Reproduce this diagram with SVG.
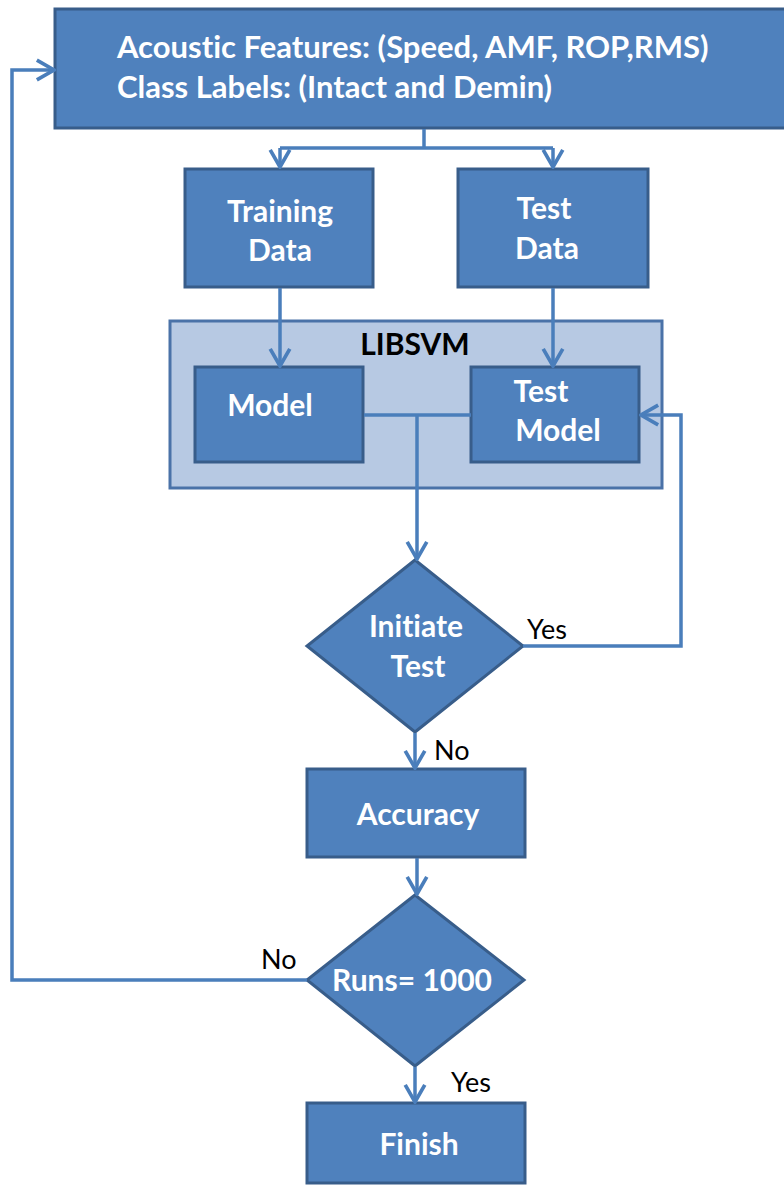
<svg xmlns="http://www.w3.org/2000/svg" width="784" height="1190" viewBox="0 0 784 1190">
  <defs>
    <style>
      .box { fill: #4f81bd; stroke: #385d8a; stroke-width: 3; }
      .group { fill: #b7c9e3; stroke: #4a72a8; stroke-width: 3; }
      text { font-variant-ligatures: none; }
      .lbl { font-family: Lato, "Open Sans", "Liberation Sans", sans-serif; font-weight: bold; fill: #ffffff; font-size: 30px; }
      .big { font-size: 31px; }
      .dark { fill: #000000; }
      .ann { font-family: Lato, "Open Sans", "Liberation Sans", sans-serif; fill: #000000; font-size: 27px; }
      .edge { fill: none; stroke: #4a7ebb; stroke-width: 3.5; }
      .mid { text-anchor: middle; }
    </style>
    <marker id="arr" viewBox="0 0 20 20" refX="18" refY="10" markerWidth="7" markerHeight="7" markerUnits="strokeWidth" orient="auto">
      <polyline points="4,2 18,10 4,18" fill="none" stroke="#4a7ebb" stroke-width="3"/>
    </marker>
  </defs>

  <rect width="784" height="1190" fill="#ffffff"/>

  <!-- input features -->
  <g id="features">
    <rect class="box" x="55" y="9" width="740" height="119"/>
    <text class="lbl big" x="117" y="58">Acoustic Features: (Speed, AMF, ROP,RMS)</text>
    <text class="lbl big" x="117" y="98">Class Labels: (Intact and Demin)</text>
  </g>

  <g id="training-data">
    <rect class="box" x="185" y="169" width="188" height="118"/>
    <text class="lbl mid" x="280" y="222">Training</text>
    <text class="lbl mid" x="280" y="261">Data</text>
  </g>

  <g id="test-data">
    <rect class="box" x="458" y="169" width="190" height="118"/>
    <text class="lbl mid" x="544" y="219">Test</text>
    <text class="lbl mid" x="547" y="259">Data</text>
  </g>

  <g id="libsvm">
    <rect class="group" x="170" y="321" width="492" height="167"/>
    <text class="lbl mid dark" x="415" y="355">LIBSVM</text>
  </g>

  <g id="model">
    <rect class="box" x="195" y="367" width="168" height="95"/>
    <text class="lbl mid" x="270" y="416">Model</text>
  </g>

  <g id="test-model">
    <rect class="box" x="471" y="367" width="168" height="95"/>
    <text class="lbl mid" x="541" y="402">Test</text>
    <text class="lbl mid" x="558" y="441">Model</text>
  </g>

  <g id="initiate-test">
    <polygon class="box" points="415,560 523,646 415,732 307,646"/>
    <text class="lbl mid" x="416" y="637">Initiate</text>
    <text class="lbl mid" x="418" y="677">Test</text>
    <text class="ann" x="527" y="639">Yes</text>
    <text class="ann" x="434" y="760">No</text>
  </g>

  <g id="accuracy">
    <rect class="box" x="307" y="769" width="218" height="88"/>
    <text class="lbl mid" x="418" y="825">Accuracy</text>
  </g>

  <g id="runs">
    <polygon class="box" points="415,895 524,980 415,1066 307,980"/>
    <text class="lbl mid" x="412" y="991">Runs= 1000</text>
    <text class="ann" x="261" y="969">No</text>
    <text class="ann" x="451" y="1092">Yes</text>
  </g>

  <g id="finish">
    <rect class="box" x="307" y="1103" width="218" height="80"/>
    <text class="lbl mid" x="419" y="1155">Finish</text>
  </g>

  <!-- connectors, drawn over the LIBSVM panel -->
  <g id="connectors">
    <polyline class="edge" points="424,129 424,148"/>
    <polyline class="edge" points="280,148 553,148"/>
    <polyline class="edge" points="280,148 280,167" marker-end="url(#arr)"/>
    <polyline class="edge" points="553,148 553,167" marker-end="url(#arr)"/>
    <polyline class="edge" points="280,288 280,366" marker-end="url(#arr)"/>
    <polyline class="edge" points="553,288 553,366" marker-end="url(#arr)"/>
    <polyline class="edge" points="364,415 471,415"/>
    <polyline class="edge" points="417,415 417,559" marker-end="url(#arr)"/>
    <polyline class="edge" points="523,646 681,646 681,415 641,415" marker-end="url(#arr)"/>
    <polyline class="edge" points="415,733 415,768" marker-end="url(#arr)"/>
    <polyline class="edge" points="417,858 417,894" marker-end="url(#arr)"/>
    <polyline class="edge" points="307,980 12,980 12,70 54,70" marker-end="url(#arr)"/>
    <polyline class="edge" points="415,1067 415,1102" marker-end="url(#arr)"/>
  </g>
</svg>
